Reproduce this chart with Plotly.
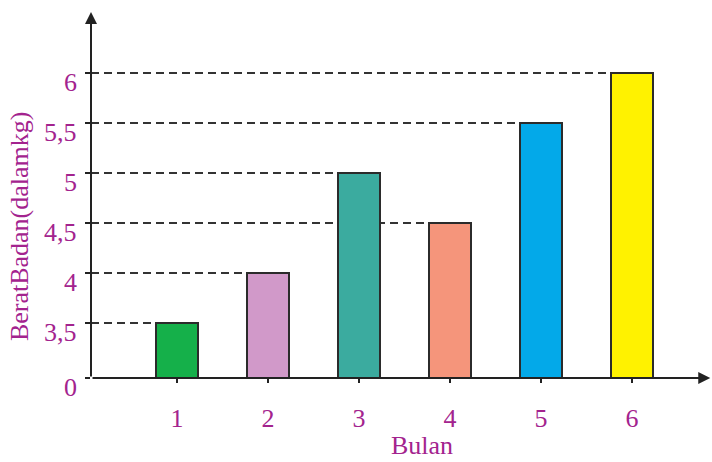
import plotly.graph_objects as go

# Data
bulan = [1, 2, 3, 4, 5, 6]
berat = [3.5, 4, 5, 4.5, 5.5, 6]
warna = ["#15b04a", "#d199c9", "#3bab9f", "#f5957b", "#03a9e9", "#fff200"]
y_ticks = [0, 3.5, 4, 4.5, 5, 5.5, 6]
y_tick_text = ["0", "3,5", "4", "4,5", "5", "5,5", "6"]

# The vertical axis is broken between 0 and 3,5; values above 0 are shifted down
OFFSET = 2.95
BAR_W = 0.47


def pos(v):
    return 0 if v == 0 else v - OFFSET


label_color = "#a3238e"
axis_color = "#222222"
font_family = "Liberation Serif, Times New Roman, serif"
label_font = dict(family=font_family, size=26, color=label_color)

fig = go.Figure()

# Dashed guide lines from the vertical axis to the left edge of each bar
for x, v in zip(bulan, berat):
    fig.add_shape(
        type="line", xref="x", yref="y",
        x0=0.055, x1=x - BAR_W / 2, y0=pos(v), y1=pos(v),
        line=dict(color="#333333", width=2, dash="8px,5px"),
        layer="below",
    )

fig.add_trace(go.Bar(
    x=bulan,
    y=[pos(v) for v in berat],
    width=BAR_W,
    marker=dict(color=warna, line=dict(color="#2b2b2b", width=2)),
    customdata=berat,
    hovertemplate="Bulan %{x}: %{customdata} kg<extra></extra>",
))

# Axis lines with arrowheads
fig.add_annotation(
    x=6.86, y=0, xref="x", yref="y", ax=0.055, ay=0, axref="x", ayref="y",
    showarrow=True, arrowhead=2, arrowsize=1.2, arrowwidth=2, arrowcolor=axis_color, text="",
)
fig.add_annotation(
    x=0.055, y=3.66, xref="x", yref="y", ax=0.055, ay=0, axref="x", ayref="y",
    showarrow=True, arrowhead=2, arrowsize=1.2, arrowwidth=2, arrowcolor=axis_color, text="",
)

# Vertical-axis labels, set slightly below their tick marks
for v, t in zip(y_ticks, y_tick_text):
    fig.add_annotation(
        text=t, xref="paper", yref="y", x=0, y=pos(v), xshift=-12, yshift=-9,
        showarrow=False, xanchor="right", yanchor="middle", font=label_font,
    )

# Axis titles
fig.add_annotation(
    text="BeratBadan(dalamkg)", xref="paper", yref="paper", x=0, y=0.415,
    xshift=-72, textangle=-90, showarrow=False, xanchor="center", yanchor="middle",
    font=label_font,
)
fig.add_annotation(
    text="Bulan", xref="paper", yref="paper", x=0.535, y=0, yshift=-67,
    showarrow=False, xanchor="center", yanchor="middle",
    font=label_font,
)

fig.update_layout(
    width=712, height=462,
    margin=dict(l=91, r=2, t=12, b=84),
    paper_bgcolor="white", plot_bgcolor="white",
    showlegend=False,
    bargap=0,
    xaxis=dict(
        range=[0.055, 6.857],
        tickvals=bulan, ticktext=[str(b) for b in bulan],
        ticks="outside", ticklen=4, tickwidth=2, tickcolor=axis_color,
        ticklabelstandoff=13,
        tickfont=label_font,
        showgrid=False, zeroline=False, showline=False,
    ),
    yaxis=dict(
        range=[0, 3.66],
        tickvals=[pos(v) for v in y_ticks],
        ticks="outside", ticklen=5, tickwidth=2, tickcolor=axis_color,
        showticklabels=False,
        showgrid=False, zeroline=False, showline=False,
    ),
)

fig.write_html("out.html")
